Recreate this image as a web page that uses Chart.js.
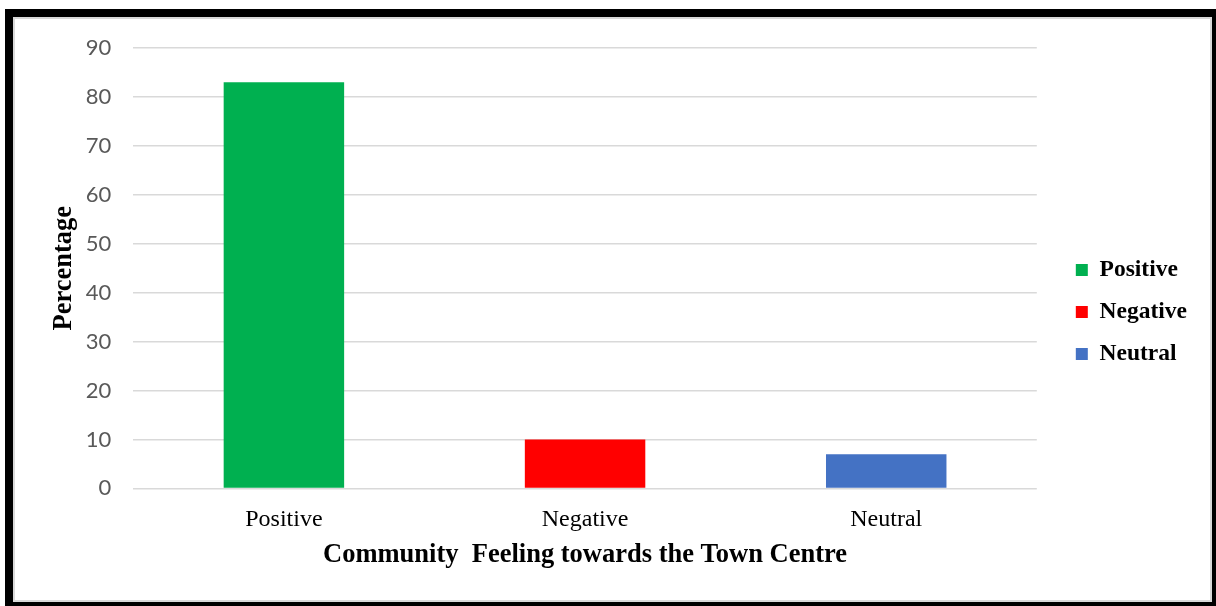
<!DOCTYPE html>
<html>
<head>
<meta charset="utf-8">
<script src="https://cdn.jsdelivr.net/npm/chart.js@4"></script>
<style>
  html, body { margin: 0; padding: 0; background: #fff; overflow: hidden; }
  .frame {
    position: absolute; left: 5px; top: 9px; width: 1215px; height: 601px;
    box-sizing: border-box; border: 8px solid #000;
  }
  .inner {
    width: 100%; height: 100%; box-sizing: border-box; border: 2px solid #d9d9d9;
    position: relative;
  }
</style>
</head>
<body>
<div class="frame"><div class="inner"><canvas id="chart"></canvas></div></div>
<script>
// Daten
const categories = ["Positive", "Negative", "Neutral"];
const percentages = [83, 10, 7];
const barColors = ["#00b050", "#ff0000", "#4472c4"];
const yTicks = [0, 10, 20, 30, 40, 50, 60, 70, 80, 90];

const serif = "'Liberation Serif', 'Times New Roman', serif";

new Chart(document.getElementById("chart"), {
    type: "bar",
    data: {
        labels: categories,
        datasets: [{
            label: "Percentage",
            data: percentages,
            backgroundColor: barColors,
            categoryPercentage: 1,
            barPercentage: 0.4,
        }],
    },
    options: {
        responsive: true,
        maintainAspectRatio: false,
        animation: false,
        layout: { padding: { top: 13, left: 10, right: 13, bottom: 8 } },
        plugins: {
            tooltip: { enabled: false },
            legend: {
                position: "right",
                labels: {
                    boxWidth: 12,
                    boxHeight: 12,
                    padding: 18.5,
                    color: "#000",
                    font: { family: serif, size: 23.5, weight: "bold" },
                    // eine Legendenzeile pro Kategorie
                    generateLabels: () => categories.map((c, i) => ({
                        text: c,
                        fillStyle: barColors[i],
                        strokeStyle: barColors[i],
                        lineWidth: 0,
                        index: i,
                    })),
                },
            },
        },
        scales: {
            x: {
                grid: { display: false },
                border: { display: false },
                ticks: {
                    color: "#000",
                    padding: 9,
                    font: { family: serif, size: 24 },
                },
                title: {
                    display: true,
                    text: "Community  Feeling towards the Town Centre",
                    color: "#000",
                    padding: { top: -4, bottom: 21 },
                    font: { family: serif, size: 26.5, weight: "bold" },
                },
            },
            y: {
                min: 0,
                max: 90,
                afterBuildTicks: (scale) => { scale.ticks = yTicks.map(v => ({ value: v })); },
                grid: { color: "#d9d9d9", lineWidth: 1.5, drawTicks: false },
                border: { display: false },
                ticks: {
                    color: "#595959",
                    padding: 22,
                    // kleine lineHeight, damit oben weniger Platz reserviert wird
                    font: { family: "Lato, 'Open Sans', sans-serif", size: 22, lineHeight: 0.64 },
                },
                title: {
                    display: true,
                    text: "Percentage",
                    color: "#000",
                    padding: { top: 23, bottom: -16 },
                    font: { family: serif, size: 26.5, weight: "bold" },
                },
            },
            // leere Achse rechts, nur als Abstand zur Legende
            gap: {
                position: "right",
                display: true,
                grid: { display: false },
                border: { display: false },
                ticks: { display: false },
                afterFit: (scale) => { scale.width = 20.5; },
            },
        },
    },
});
</script>
</body>
</html>
